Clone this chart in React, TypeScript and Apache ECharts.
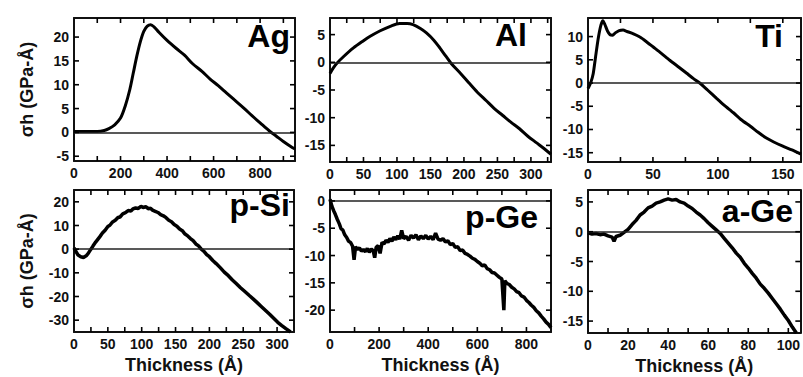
import React, { useEffect, useRef } from "react";
import * as echarts from "echarts";

const PANEL_NAMES = ["Ag", "Al", "Ti", "p-Si", "p-Ge", "a-Ge"];
const X_TITLE = "Thickness (Å)";
const Y_TITLE = "σh (GPa-Å)";

const AG_DATA: [number, number][] = [
  [0, 0.2], [50, 0.2], [100, 0.2], [130, 0.4], [150, 0.8], [175, 1.6], [200, 3], [220, 5.5],
  [240, 9], [255, 12.5], [270, 16], [285, 19], [300, 21.2], [315, 22.3], [330, 22.6], [345, 22.1],
  [365, 21], [400, 19.3], [440, 17.6], [475, 16.2], [510, 14.4], [550, 12.8], [585, 11.2],
  [620, 9.8], [655, 8.3], [690, 6.8], [730, 5.1], [765, 3.5], [800, 2], [840, 0.3], [870, -0.8],
  [900, -1.9], [930, -2.9], [950, -3.5],
];

const AL_DATA: [number, number][] = [
  [0, -2], [5, -1], [10, -0.2], [20, 1], [35, 2.6], [50, 3.9], [60, 4.7], [75, 5.7], [90, 6.5],
  [104, 7], [115, 7], [124, 6.8], [135, 6.1], [144, 5.3], [155, 4], [164, 2.6], [173, 1.1],
  [181, -0.2], [195, -2], [208, -3.8], [220, -5.4], [233, -6.9], [245, -8.3], [258, -9.6],
  [270, -10.8], [283, -12], [295, -13.3], [308, -14.5], [320, -15.6], [330, -16.6],
];

const TI_DATA: [number, number][] = [
  [0, -1.2], [2, 0], [4, 2], [6, 6], [8, 9.8], [10, 12.5], [11.5, 13.4], [13, 12.6], [15, 11.2],
  [17, 10.4], [19, 10.3], [21, 10.8], [24, 11.3], [27, 11.4], [30, 11.1], [35, 10.6], [40, 9.9],
  [45, 8.9], [50, 7.8], [56, 6.5], [63, 4.9], [70, 3.4], [76, 2.1], [81, 1], [86, 0], [92, -1.5],
  [99, -3.3], [105, -4.8], [112, -6.4], [118, -7.9], [125, -9.3], [131, -10.6], [137, -11.8],
  [143, -12.7], [150, -13.6], [157, -14.4], [164, -15.3],
];

const PSI_DATA: [number, number][] = [
  [0, 0.5], [3, -1], [6, -2.5], [10, -3.2], [14, -3.5], [18, -2.8], [21, -1.8], [25, 0], [28, 1.3],
  [32, 3], [38, 5.2], [42, 6.8], [46, 8], [50, 9.6], [53, 10.1], [57, 11.5], [61, 12.2], [65, 13.4],
  [68, 13.6], [72, 14.9], [76, 15.4], [80, 16.3], [84, 16.1], [87, 17], [91, 17.4], [95, 17.2],
  [99, 18.1], [102, 17.6], [106, 17.9], [110, 17.1], [113, 17.3], [116, 16.5], [120, 16],
  [124, 15.5], [128, 14.6], [132, 14.1], [136, 13.3], [140, 12.2], [144, 11.6], [148, 10.4],
  [152, 9.7], [156, 8.5], [160, 7.8], [164, 6.4], [168, 5.6], [172, 4.5], [176, 3.6], [180, 2.2],
  [184, 1.4], [188, 0], [192, -0.9], [196, -2.3], [200, -3.2], [205, -4.8], [210, -6.1],
  [216, -7.8], [222, -9.7], [228, -11.2], [234, -13], [240, -14.6], [246, -16.3], [252, -17.8],
  [259, -19.6], [265, -21.1], [271, -22.7], [277, -24.3], [283, -25.9], [289, -27.5], [295, -29.2],
  [301, -30.9], [307, -32.3], [313, -33.6], [320, -35],
];

const PGE_DATA: [number, number][] = [
  [0, 0.3], [8, -1], [15, -1.8], [22, -2.5], [30, -3.4], [38, -4.2], [45, -5.1], [52, -5.3],
  [60, -6.2], [68, -6.7], [76, -7.4], [84, -7.6], [92, -8.3], [98, -10.8], [104, -8.4], [112, -8.9],
  [120, -8.6], [128, -9.2], [136, -8.9], [144, -9.3], [152, -8.7], [160, -9.4], [168, -8.8],
  [176, -9.1], [182, -10.4], [188, -8.5], [196, -8.2], [204, -9.6], [212, -7.6], [220, -7.9],
  [228, -7.2], [236, -7.6], [244, -6.9], [252, -7.4], [260, -6.6], [268, -7.1], [276, -6.4],
  [284, -7], [292, -5.4], [300, -6.9], [310, -6.5], [320, -7.2], [330, -6.3], [340, -6.8],
  [350, -6.2], [360, -7.1], [370, -6.4], [380, -6.9], [390, -6.3], [400, -7], [410, -6.5],
  [420, -7.1], [430, -5.9], [440, -7], [450, -7.2], [460, -6.9], [470, -7.5], [480, -7.3],
  [490, -8], [500, -7.8], [510, -8.5], [520, -8.4], [530, -9.1], [540, -9], [550, -9.6],
  [560, -9.8], [570, -10.1], [580, -10.5], [590, -10.7], [600, -11.1], [610, -11.4], [620, -11.9],
  [630, -11.7], [640, -12.4], [650, -12.6], [660, -13.1], [670, -13.2], [680, -13.6], [690, -14],
  [700, -14.3], [708, -20], [712, -14.6], [720, -15.1], [730, -15.3], [740, -15.8], [750, -16.1],
  [760, -16.6], [770, -16.8], [780, -17.4], [790, -17.6], [800, -18.2], [810, -18.6], [820, -19.1],
  [830, -19.5], [840, -20.1], [850, -20.5], [860, -21.1], [870, -21.6], [880, -22.2], [890, -22.6],
  [900, -23.2],
];

const AGE_DATA: [number, number][] = [
  [0, -0.2], [2, -0.4], [4, -0.3], [6, -0.5], [8, -0.4], [10, -0.7], [12, -0.9], [13, -1.6],
  [14, -0.8], [16, -0.6], [18, -0.1], [20, 0.4], [22, 1.2], [24, 1.9], [26, 2.8], [28, 3.3],
  [30, 4], [32, 4.3], [34, 4.8], [36, 5], [38, 5.3], [40, 5.5], [42, 5.3], [44, 5.4], [46, 5],
  [48, 4.8], [50, 4.3], [52, 3.9], [54, 3.3], [56, 2.8], [58, 2.2], [60, 1.5], [62, 0.9],
  [64, 0.3], [66, -0.3], [68, -1.1], [70, -1.9], [72, -2.7], [74, -3.6], [76, -4.3], [78, -5.3],
  [80, -6.1], [82, -7], [84, -7.8], [86, -8.8], [88, -9.5], [90, -10.3], [92, -11.2], [94, -12.1],
  [96, -13], [98, -14], [100, -14.9], [102, -16], [104, -17],
];

const SERIES_DATA = [AG_DATA, AL_DATA, TI_DATA, PSI_DATA, PGE_DATA, AGE_DATA];
const SMOOTH = [0.3, 0.3, 0.2, false, false, false];
const LINE_WIDTH = [3, 3, 3, 3.5, 3.5, 3.5];

const X_LABELS = [
  [0, 200, 400, 600, 800],
  [0, 50, 100, 150, 200, 250, 300],
  [0, 50, 100, 150],
  [0, 50, 100, 150, 200, 250, 300],
  [0, 200, 400, 600, 800],
  [0, 20, 40, 60, 80, 100],
];
const X_TICKS = [
  [100, 200, 300, 400, 500, 600, 700, 800, 900],
  [25, 50, 75, 100, 125, 150, 175, 200, 225, 250, 275, 300, 325],
  [25, 50, 75, 100, 125, 150],
  [25, 50, 75, 100, 125, 150, 175, 200, 225, 250, 275, 300],
  [100, 200, 300, 400, 500, 600, 700, 800],
  [10, 20, 30, 40, 50, 60, 70, 80, 90, 100],
];
const Y_LABELS = [
  [-5, 0, 5, 10, 15, 20],
  [-15, -10, -5, 0, 5],
  [-15, -10, -5, 0, 5, 10],
  [-30, -20, -10, 0, 10, 20],
  [-20, -15, -10, -5, 0],
  [-15, -10, -5, 0, 5],
];
const X_RANGES = [[0, 950], [0, 330], [0, 164], [0, 325], [0, 900], [0, 106]];
const Y_RANGES = [[-6, 24], [-18, 8], [-17, 14], [-35, 25], [-24, 2], [-17, 7]];

const GRIDS = [
  { left: 74, top: 18, width: 221, height: 143 },
  { left: 330, top: 18, width: 221, height: 144 },
  { left: 588, top: 18, width: 213, height: 144 },
  { left: 74, top: 190, width: 220, height: 142 },
  { left: 330, top: 190, width: 221, height: 142 },
  { left: 588, top: 190, width: 213, height: 143 },
];
const TITLE_POS = [
  { right: 513, top: 20 },
  { right: 276, top: 19 },
  { right: 20, top: 20 },
  { right: 513, top: 189 },
  { right: 265, top: 201 },
  { right: 10, top: 195 },
];

const FONT = "Liberation Sans";
const INK = "#111";
const TICK_LEN = 5;

export default function App() {
  const ref = useRef<HTMLDivElement>(null);
  useEffect(() => {
    if (!ref.current) return;
    const chart = echarts.init(ref.current, undefined, { renderer: "svg" });
    const labelStyle = { color: INK, fontFamily: FONT, fontWeight: "bold" as const, fontSize: 14 };
    const mkLine = () => ({ show: true, onZero: false, lineStyle: { color: INK, width: 2 } });
    const xAxes: any[] = [];
    const yAxes: any[] = [];
    const series: any[] = [];
    const titles: any[] = [];
    GRIDS.forEach((g, i) => {
      xAxes.push({
        type: "value",
        gridIndex: i,
        min: X_RANGES[i][0],
        max: X_RANGES[i][1],
        position: "bottom",
        splitLine: { show: false },
        axisLine: mkLine(),
        axisTick: { show: false },
        axisLabel: { ...labelStyle, margin: 5, customValues: X_LABELS[i] },
        name: i >= 3 ? X_TITLE : "",
        nameLocation: "middle",
        nameGap: 24,
        nameTextStyle: { color: INK, fontFamily: FONT, fontWeight: "bold", fontSize: 18 },
      });
      xAxes.push({
        type: "value",
        gridIndex: i,
        min: X_RANGES[i][0],
        max: X_RANGES[i][1],
        position: "top",
        splitLine: { show: false },
        axisLine: mkLine(),
        axisTick: { show: false },
        axisLabel: { show: false },
      });
      yAxes.push({
        type: "value",
        gridIndex: i,
        min: Y_RANGES[i][0],
        max: Y_RANGES[i][1],
        position: "left",
        splitLine: { show: false },
        axisLine: mkLine(),
        axisTick: { show: false },
        axisLabel: { ...labelStyle, margin: 5, customValues: Y_LABELS[i] },
        name: i === 0 || i === 3 ? Y_TITLE : "",
        nameLocation: "middle",
        nameRotate: 90,
        nameGap: 38,
        nameTextStyle: { color: INK, fontFamily: FONT, fontWeight: "bold", fontSize: 18 },
      });
      yAxes.push({
        type: "value",
        gridIndex: i,
        min: Y_RANGES[i][0],
        max: Y_RANGES[i][1],
        position: "right",
        splitLine: { show: false },
        axisLine: mkLine(),
        axisTick: { show: false },
        axisLabel: { show: false },
      });
      series.push({
        type: "line",
        xAxisIndex: i * 2,
        yAxisIndex: i * 2,
        data: SERIES_DATA[i],
        showSymbol: false,
        smooth: SMOOTH[i],
        lineStyle: { color: "#000", width: LINE_WIDTH[i] },
        markLine: {
          silent: true,
          symbol: ["none", "none"],
          label: { show: false },
          lineStyle: { color: "#222", width: 1.5, type: "solid" },
          data: [{ yAxis: 0 }],
        },
      });
      // inward tick marks on all four frame sides, placed through the axes' own scales
      const tickData = [
        ...X_TICKS[i].map((v) => [v, 0]),
        ...Y_LABELS[i].map((v) => [v, 1]),
      ];
      series.push({
        type: "custom",
        xAxisIndex: i * 2,
        yAxisIndex: i * 2,
        silent: true,
        clip: false,
        z: 5,
        data: tickData,
        renderItem: (_params: any, api: any) => {
          const v = api.value(0);
          const kind = api.value(1);
          const style = { stroke: "#000", lineWidth: 1.6 };
          if (kind === 0) {
            const b = api.coord([v, Y_RANGES[i][0]]);
            const t = api.coord([v, Y_RANGES[i][1]]);
            return {
              type: "group",
              children: [
                { type: "line", shape: { x1: b[0], y1: b[1], x2: b[0], y2: b[1] - TICK_LEN }, style },
                { type: "line", shape: { x1: t[0], y1: t[1], x2: t[0], y2: t[1] + TICK_LEN }, style },
              ],
            };
          }
          const l = api.coord([X_RANGES[i][0], v]);
          const r = api.coord([X_RANGES[i][1], v]);
          return {
            type: "group",
            children: [
              { type: "line", shape: { x1: l[0], y1: l[1], x2: l[0] + TICK_LEN, y2: l[1] }, style },
              { type: "line", shape: { x1: r[0], y1: r[1], x2: r[0] - TICK_LEN, y2: r[1] }, style },
            ],
          };
        },
      });
      titles.push({
        text: PANEL_NAMES[i],
        right: TITLE_POS[i].right,
        top: TITLE_POS[i].top,
        padding: 0,
        textStyle: { color: "#000", fontFamily: FONT, fontWeight: "bold", fontSize: 32 },
      });
    });
    chart.setOption({
      animation: false,
      backgroundColor: "#fff",
      title: titles,
      grid: GRIDS.map((g) => ({ ...g, show: false })),
      xAxis: xAxes,
      yAxis: yAxes,
      series,
    });
    return () => chart.dispose();
  }, []);
  return (
    <div
      ref={ref}
      style={{ position: "fixed", left: 0, top: 0, width: 803, height: 377, background: "#fff" }}
    />
  );
}
